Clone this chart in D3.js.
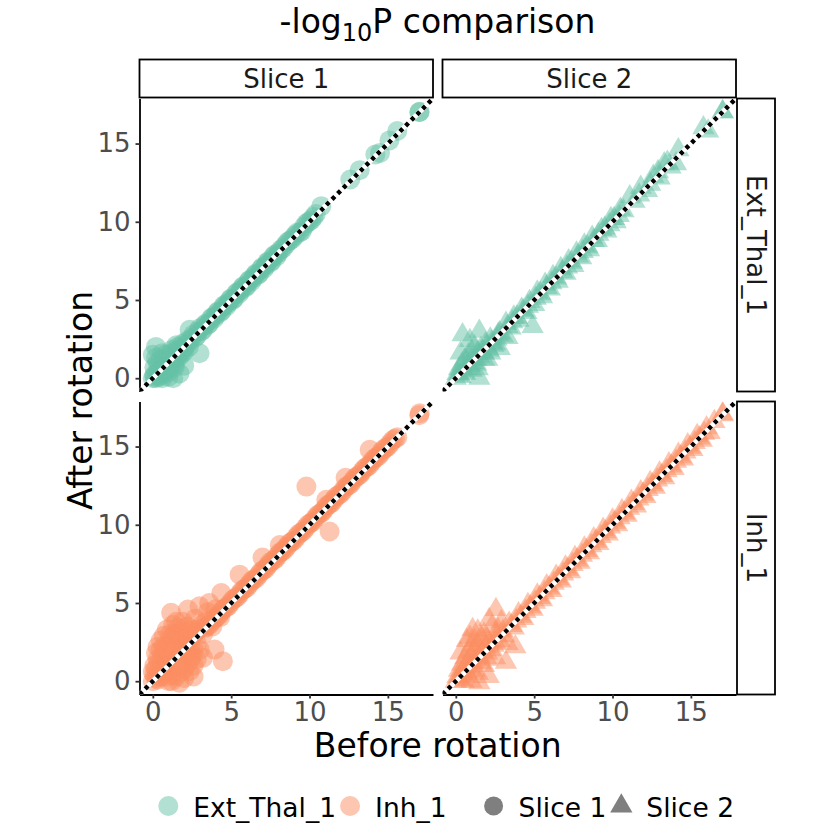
<!DOCTYPE html>
<html>
<head>
<meta charset="utf-8">
<title>-log10P comparison</title>
<script src="https://d3js.org/d3.v7.min.js"></script>
<style>
    body { margin: 0; background: #ffffff; }
    svg text { font-family: "DejaVu Sans", sans-serif; }
</style>
</head>
<body>
<div id="chart"></div>
<script>
// facets and legend
var cellTypes = ["Ext_Thal_1", "Inh_1"];
var slices = ["Slice 1", "Slice 2"];
var typeColors = ["#66C2A5", "#FC8D62"];
var xTicks = [0, 5, 10, 15];
var yTicks = [0, 5, 10, 15];
var axisDomain = [-0.85, 17.88];

// [before rotation, after rotation]
var extSlice1 = [
    [0.0,0.0],[0.1,0.2],[0.2,0.0],[0.3,0.4],[0.1,0.7],[0.4,0.1],[0.5,0.6],[0.6,0.2],[0.3,1.0],[0.7,0.9],
    [0.8,0.4],[0.5,1.2],[0.9,1.1],[1.0,0.6],[1.1,1.4],[1.2,0.8],[0.8,1.5],[1.3,1.2],[1.4,0.9],[1.5,1.7],
    [1.6,1.3],[1.2,1.8],[1.7,1.9],[1.8,1.5],[1.9,2.2],[2.0,1.7],[2.2,2.4],[2.3,2.0],[1.5,2.1],[2.5,2.6],
    [2.98,1.6],[0.2,1.3],[1.0,0.1],[0.6,1.6],[0.2,2.0],[0.0,1.5],[1.3,0.0],[1.7,0.3],[2.0,0.8],[2.35,3.1],
    [0.1,0.1],[0.3,0.2],[0.5,0.4],[0.7,0.6],[0.9,0.8],[1.1,1.0],[1.3,1.3],[1.5,1.4],[1.7,1.6],[1.9,1.8],
    [2.1,2.1],[2.3,2.3],[0.4,0.7],[0.8,1.2],[1.2,1.6],[1.6,2.0],[0.6,0.0],[1.0,0.4],[1.4,0.7],
    [2.6,2.8],[2.8,2.7],[3.0,3.2],[3.2,3.1],[3.4,3.5],[3.6,3.5],[3.8,3.9],[4.0,4.0],[4.2,4.3],[4.4,4.3],
    [4.6,4.7],[4.8,4.8],[5.0,5.1],[5.2,5.1],[5.4,5.5],[5.6,5.6],[5.8,5.9],[6.0,5.9],[6.2,6.3],[6.4,6.4],
    [6.6,6.7],[6.8,6.7],[7.0,7.1],[7.2,7.2],[7.4,7.5],[7.6,7.5],[7.8,7.9],[8.0,8.0],[8.3,8.3],[8.6,8.7],
    [8.9,8.9],[9.2,9.3],[9.5,9.4],[9.8,9.9],[10.1,10.1],[10.4,10.5],[10.75,11.0],
    [2.7,2.6],[2.9,3.0],[3.1,3.0],[3.3,3.4],[3.5,3.4],[3.7,3.8],[3.9,3.8],[4.1,4.2],[4.3,4.2],[4.5,4.6],
    [4.7,4.6],[4.9,5.0],[5.1,5.0],[5.3,5.4],[5.5,5.4],[5.7,5.8],[5.9,5.8],[6.1,6.2],[6.3,6.2],[6.5,6.6],
    [6.7,6.6],[6.9,7.0],[7.1,7.0],[7.3,7.4],[7.5,7.4],[7.7,7.8],[7.9,7.8],[8.15,8.2],[8.45,8.5],[8.75,8.8],
    [9.05,9.1],[9.35,9.3],[9.65,9.7],[9.95,10.0],[10.25,10.3],
    [12.6,12.7],[13.2,13.3],[14.2,14.3],[14.5,14.4],[15.1,15.2],[15.6,15.8],[17.03,17.03],[17.0,17.0]
];
var extSlice2 = [
    [0.0,0.0],[0.1,0.3],[0.3,0.1],[0.2,0.6],[0.5,0.4],[0.4,0.9],[0.7,0.6],[0.6,1.2],[0.9,0.8],[0.8,1.5],
    [1.1,1.0],[1.0,1.7],[1.3,1.2],[1.2,2.0],[1.5,1.4],[1.6,1.9],[1.8,1.6],[1.9,2.2],[2.1,1.8],[2.2,2.5],
    [2.4,2.1],[0.43,2.77],[1.5,3.0],[0.9,2.4],[1.4,0.6],[2.0,1.2],[0.3,1.6],[2.6,2.5],[2.8,2.9],[3.0,2.7],
    [1.5,0.0],[2.8,1.9],[3.3,2.6],
    [0.2,0.2],[0.5,0.6],[0.8,0.9],[1.1,1.3],[1.4,1.6],[1.7,1.7],[2.0,2.0],[2.3,2.3],[2.5,2.2],[2.7,2.8],
    [0.6,0.3],[1.0,0.5],[1.3,0.9],[1.8,1.2],[2.2,1.6],
    [3.2,3.5],[3.5,3.2],[3.7,3.9],[4.0,3.7],[4.2,4.4],[4.5,4.2],[4.9,3.3],[4.7,4.9],[5.0,4.7],[5.2,5.5],
    [5.5,5.2],[5.7,6.0],[6.0,5.7],[6.2,6.5],[6.5,6.2],[6.7,7.0],[7.0,6.7],[7.2,7.5],[7.5,7.2],[7.7,8.0],
    [8.0,7.7],[8.2,8.5],[8.5,8.2],[8.7,9.0],[9.0,8.8],[9.3,9.5],[9.6,9.4],[9.9,10.2],[10.2,10.0],[10.5,10.8],
    [3.3,3.3],[3.6,3.6],[3.9,3.9],[4.3,4.3],[4.6,4.6],[5.1,5.1],[5.4,5.4],[5.8,5.8],[6.1,6.1],[6.4,6.4],
    [6.8,6.8],[7.1,7.1],[7.4,7.4],[7.8,7.8],[8.1,8.1],[8.4,8.4],[8.8,8.8],[9.1,9.2],[9.5,9.6],[9.8,9.8],
    [10.1,10.2],[10.4,10.4],[10.7,10.7],
    [11.1,11.6],[11.4,11.3],[11.7,11.7],[11.8,12.2],[12.2,12.0],[12.4,12.4],[12.6,12.9],[12.9,13.2],[13.0,12.8],[13.3,13.7],
    [13.5,13.8],[13.7,13.5],[14.05,13.7],[14.2,14.6],
    [15.8,16.0],[16.1,15.8],[17.03,17.03],[17.03,17.03]
];
var inhSlice1 = [
    [0.0,0.0],[0.1,0.4],[0.3,0.1],[0.2,0.8],[0.5,0.3],[0.4,1.2],[0.7,0.5],[0.6,1.6],[0.9,0.7],[0.8,2.0],
    [1.1,0.9],[1.0,2.4],[1.3,1.2],[1.2,2.8],[1.5,1.5],[1.4,3.0],[1.7,1.8],[1.6,2.5],[1.9,2.0],[1.8,3.2],
    [2.1,2.3],[2.0,0.8],[2.3,2.6],[2.2,3.5],[2.5,2.8],[2.4,1.4],[2.7,3.1],[2.6,0.3],[0.3,2.2],[1.0,0.0],
    [1.5,0.3],[1.7,-0.1],[2.34,0.64],[0.7,2.9],[1.17,4.37],[2.24,4.58],[2.98,4.79],[2.7,4.0],[3.2,3.0],[3.0,2.0],
    [3.94,2.02],[4.47,1.28],[4.37,5.64],[3.5,4.4],[3.8,3.5],[4.0,4.6],[4.3,4.1],[3.1,3.6],[1.9,3.8],[0.5,2.6],
    [0.2,1.8],[0.5,2.0],[0.9,3.3],[1.3,3.6],[1.6,3.4],[2.0,2.9],[2.3,1.9],[2.6,2.0],[0.8,1.0],[1.2,0.4],
    [2.0,0.2],[2.6,1.0],[3.2,1.5],[3.6,5.0],
    [0.2,0.2],[0.4,0.6],[0.6,1.0],[0.8,1.4],[1.0,1.8],[1.2,2.2],[1.4,2.6],[1.6,3.0],[1.8,2.6],[2.0,2.2],
    [2.2,1.8],[2.4,2.2],[2.2,2.8],[2.0,3.4],[1.4,2.0],[1.0,1.2],[0.6,0.6],[1.2,0.0],[0.9,0.3],[1.8,0.6],
    [2.2,1.1],[2.5,1.6],[2.8,2.4],[0.3,1.4],[0.1,1.0],[0.7,2.2],[1.1,3.0],[1.5,3.8],[2.5,3.3],[2.9,3.3],
    [3.4,3.8],[0.0,0.6],[1.6,1.0],[2.8,1.4],
    [3.3,3.4],[3.6,3.6],[3.9,4.0],[4.2,4.2],[4.5,4.6],[4.8,4.8],[5.1,5.2],[5.4,5.4],[5.54,6.81],[5.7,5.8],
    [6.0,6.0],[6.3,6.4],[6.6,6.6],[6.9,7.0],[7.0,7.9],[7.2,7.2],[7.5,7.6],[7.8,7.8],[8.1,8.2],[8.1,8.7],
    [8.4,8.4],[8.7,8.8],[9.0,9.0],[9.3,9.4],[9.6,9.6],[9.8,12.44],[9.9,10.0],[10.2,10.2],[10.5,10.6],[10.8,10.8],
    [11.07,11.6],[11.28,9.57],[11.1,11.2],[11.4,11.4],[11.7,11.8],[12.0,12.0],[12.3,13.0],[12.3,12.4],[12.6,12.6],[12.9,13.0],
    [13.2,13.2],[13.5,13.6],[13.84,14.79],[13.8,13.8],[14.1,14.2],[14.4,14.4],[14.7,14.8],[15.0,15.0],[15.3,15.4],[15.6,15.6],
    [3.45,3.5],[3.75,3.8],[4.05,4.1],[4.35,4.4],[4.65,4.7],[4.95,5.0],[5.25,5.3],[5.55,5.6],[5.85,5.9],[6.15,6.2],
    [6.45,6.5],[6.75,6.8],[7.05,7.1],[7.35,7.4],[7.65,7.7],[7.95,8.0],[8.25,8.3],[8.55,8.6],[8.85,8.9],[9.15,9.2],
    [9.45,9.5],[9.75,9.8],[10.05,10.1],[10.35,10.4],[10.65,10.7],[10.95,11.0],[11.25,11.3],[11.55,11.6],[11.85,11.9],[12.15,12.2],
    [12.45,12.5],[12.75,12.8],[13.05,13.1],[13.35,13.4],[13.65,13.7],[13.95,14.0],[14.25,14.3],[14.55,14.6],[14.85,14.9],[15.15,15.2],
    [15.45,15.5],
    [17.03,17.13],[17.0,17.0]
];
var inhSlice2 = [
    [0.0,0.0],[0.1,0.3],[0.3,0.1],[0.2,0.7],[0.5,0.4],[0.4,1.1],[0.7,0.6],[0.6,1.5],[0.9,0.9],[0.8,1.9],
    [1.1,1.2],[1.0,2.3],[1.07,3.3],[1.3,1.5],[1.2,2.6],[1.5,1.6],[1.4,0.5],[1.7,1.9],[1.6,2.8],[1.9,2.2],
    [1.8,1.0],[2.13,3.94],[2.56,4.58],[2.3,3.5],[2.1,2.5],[2.4,2.3],[2.6,2.9],[2.8,2.6],[3.0,3.2],[0.3,1.8],
    [1.0,0.0],[2.0,1.4],[3.3,2.4],[2.9,3.8],[0.7,2.6],[1.5,-0.1],[2.1,0.3],[3.2,1.2],[3.8,2.2],
    [0.2,0.2],[0.4,0.5],[0.6,0.9],[0.8,1.3],[1.0,1.6],[1.2,2.0],[1.4,2.3],[0.5,0.0],[0.8,0.3],[1.2,0.7],
    [1.6,1.2],[2.0,1.8],[2.3,2.0],[2.5,2.5],[2.7,3.3],[1.8,3.0],[1.4,3.2],[0.9,2.8],[2.0,2.7],[3.1,2.9],
    [2.5,1.5],
    [3.4,3.7],[3.7,3.4],[4.0,4.3],[4.3,4.0],[4.6,4.9],[4.9,4.6],[5.2,5.5],[5.5,5.2],[5.8,6.1],[6.1,5.8],
    [6.4,6.7],[6.7,6.4],[7.0,7.3],[7.3,7.0],[7.6,7.9],[7.9,7.6],[8.2,8.5],[8.5,8.2],[8.8,9.1],[9.1,8.8],
    [9.4,9.7],[9.7,9.4],[10.0,10.3],[10.3,10.0],[10.6,10.9],[10.9,10.6],[11.2,11.5],[11.5,11.2],[11.8,12.1],[12.1,11.8],
    [12.4,12.7],[12.7,12.4],[13.0,13.3],[13.3,13.0],[13.6,13.9],[13.9,13.6],[14.2,14.5],[14.5,14.2],[14.8,15.1],[15.1,14.8],
    [15.4,15.7],[15.7,15.4],[16.0,16.2],[16.2,15.9],
    [3.55,3.55],[3.85,3.85],[4.15,4.15],[4.45,4.45],[4.75,4.75],[5.05,5.05],[5.35,5.35],[5.65,5.65],[5.95,5.95],[6.25,6.25],
    [6.55,6.55],[6.85,6.85],[7.15,7.15],[7.45,7.45],[7.75,7.75],[8.05,8.05],[8.35,8.35],[8.65,8.65],[8.95,8.95],[9.25,9.25],
    [9.55,9.55],[9.85,9.85],[10.15,10.15],[10.45,10.45],[10.75,10.75],[11.05,11.05],[11.35,11.35],[11.65,11.65],[11.95,11.95],[12.25,12.25],
    [12.55,12.55],[12.85,12.85],[13.15,13.15],[13.45,13.45],[13.75,13.75],[14.05,14.05],[14.35,14.35],[14.65,14.65],[14.95,14.95],[15.25,15.25],
    [15.55,15.55],[15.85,15.85],[16.5,16.6],
    [17.03,17.03],[17.03,17.1]
];
var panelData = [[extSlice1, extSlice2], [inhSlice1, inhSlice2]];

var width = 840, height = 840;
var panelLeft = [139.5, 442.5];
var panelTop = [98.5, 401.5];
var panelW = 293.5, panelH = 293;
var stripSize = 38;

var svg = d3.select("#chart").append("svg")
    .attr("width", width)
    .attr("height", height);

var x = d3.scaleLinear().domain(axisDomain).range([0, panelW]);
var y = d3.scaleLinear().domain(axisDomain).range([panelH, 0]);

var circleSymbol = d3.symbol().type(d3.symbolCircle).size(Math.PI * 10 * 10);
var triangleSymbol = d3.symbol().type(d3.symbolTriangle).size(215);

// title
var title = svg.append("text")
    .attr("x", 437.5)
    .attr("y", 33)
    .attr("text-anchor", "middle")
    .style("font-size", "33px")
    .style("fill", "#000");
title.append("tspan").text("-log");
title.append("tspan").attr("dy", 8).style("font-size", "24px").text("10");
title.append("tspan").attr("dy", -8).text("P comparison");

// axes first, panel contents on top
cellTypes.forEach(function(type, r) {
    var g = svg.append("g")
        .attr("transform", "translate(" + panelLeft[0] + "," + panelTop[r] + ")")
        .call(d3.axisLeft(y).tickValues(yTicks).tickSize(4).tickSizeOuter(0).tickPadding(5));
    styleAxis(g);
});
slices.forEach(function(s, c) {
    var g = svg.append("g")
        .attr("transform", "translate(" + panelLeft[c] + "," + (panelTop[1] + panelH) + ")")
        .call(d3.axisBottom(x).tickValues(xTicks).tickSize(4).tickSizeOuter(0).tickPadding(4));
    styleAxis(g);
});

function styleAxis(g) {
    g.select(".domain").attr("stroke", "#000").attr("stroke-width", 1.8);
    g.selectAll(".tick line").attr("stroke", "#333333").attr("stroke-width", 1.8);
    g.selectAll(".tick text")
        .style("font-size", "26px")
        .style("font-family", "'DejaVu Sans', sans-serif")
        .attr("fill", "#4D4D4D");
}

cellTypes.forEach(function(type, r) {
    slices.forEach(function(s, c) {
        var clipId = "clip-" + r + "-" + c;
        svg.append("clipPath").attr("id", clipId)
            .append("rect")
            .attr("x", 0).attr("y", 0)
            .attr("width", panelW).attr("height", panelH);

        var panel = svg.append("g")
            .attr("transform", "translate(" + panelLeft[c] + "," + panelTop[r] + ")")
            .attr("clip-path", "url(#" + clipId + ")");

        panel.selectAll("path.pt")
            .data(panelData[r][c])
            .enter().append("path")
            .attr("class", "pt")
            .attr("d", c === 0 ? circleSymbol : triangleSymbol)
            .attr("transform", function(d) { return "translate(" + x(d[0]) + "," + y(d[1]) + ")"; })
            .attr("fill", typeColors[r])
            .attr("fill-opacity", 0.5);

        // identity line: white under black dotted
        panel.append("line")
            .attr("x1", x(axisDomain[0])).attr("y1", y(axisDomain[0]))
            .attr("x2", x(axisDomain[1])).attr("y2", y(axisDomain[1]))
            .attr("stroke", "#fff").attr("stroke-width", 5);
        panel.append("line")
            .attr("x1", x(axisDomain[0])).attr("y1", y(axisDomain[0]))
            .attr("x2", x(axisDomain[1])).attr("y2", y(axisDomain[1]))
            .attr("stroke", "#000").attr("stroke-width", 4.5)
            .attr("stroke-dasharray", "4,4");
    });
});

// strips on top
slices.forEach(function(s, c) {
    svg.append("rect")
        .attr("x", panelLeft[c]).attr("y", panelTop[0] - stripSize - 1)
        .attr("width", panelW).attr("height", stripSize)
        .attr("fill", "#fff").attr("stroke", "#000").attr("stroke-width", 1.8);
    svg.append("text")
        .attr("x", panelLeft[c] + panelW / 2)
        .attr("y", panelTop[0] - stripSize / 2 - 1)
        .attr("text-anchor", "middle")
        .attr("dominant-baseline", "central")
        .style("font-size", "26px")
        .style("fill", "#1A1A1A")
        .text(s);
});
cellTypes.forEach(function(type, r) {
    var sx = panelLeft[1] + panelW + 1;
    svg.append("rect")
        .attr("x", sx).attr("y", panelTop[r])
        .attr("width", stripSize).attr("height", panelH)
        .attr("fill", "#fff").attr("stroke", "#000").attr("stroke-width", 1.8);
    svg.append("text")
        .attr("transform", "translate(" + (sx + stripSize / 2) + "," + (panelTop[r] + panelH / 2) + ") rotate(90)")
        .attr("text-anchor", "middle")
        .attr("dominant-baseline", "central")
        .style("font-size", "26px")
        .style("fill", "#1A1A1A")
        .text(type);
});

// axis titles
svg.append("text")
    .attr("x", (panelLeft[0] + panelLeft[1] + panelW) / 2)
    .attr("y", 757)
    .attr("text-anchor", "middle")
    .style("font-size", "33px")
    .text("Before rotation");
svg.append("text")
    .attr("transform", "translate(92," + ((panelTop[0] + panelTop[1] + panelH) / 2 + 4) + ") rotate(-90)")
    .attr("text-anchor", "middle")
    .style("font-size", "33px")
    .text("After rotation");

// legend
var legendItems = [
    {label: cellTypes[0], color: typeColors[0], opacity: 0.5, shape: circleSymbol, gapAfter: 14},
    {label: cellTypes[1], color: typeColors[1], opacity: 0.5, shape: circleSymbol, gapAfter: 47},
    {label: slices[0], color: "#7F7F7F", opacity: 1, shape: d3.symbol().type(d3.symbolCircle).size(Math.PI * 9.5 * 9.5), gapAfter: 15},
    {label: slices[1], color: "#7F7F7F", opacity: 1, shape: triangleSymbol, gapAfter: 0}
];
var cursor = 168.3;
var legendY = 806;
legendItems.forEach(function(item) {
    svg.append("path")
        .attr("d", item.shape)
        .attr("transform", "translate(" + cursor + "," + legendY + ")")
        .attr("fill", item.color)
        .attr("fill-opacity", item.opacity);
    var t = svg.append("text")
        .attr("x", cursor + 25)
        .attr("y", legendY + 11)
        .style("font-size", "26.5px")
        .text(item.label);
    cursor = cursor + 25 + t.node().getComputedTextLength() + item.gapAfter;
});
</script>
</body>
</html>
